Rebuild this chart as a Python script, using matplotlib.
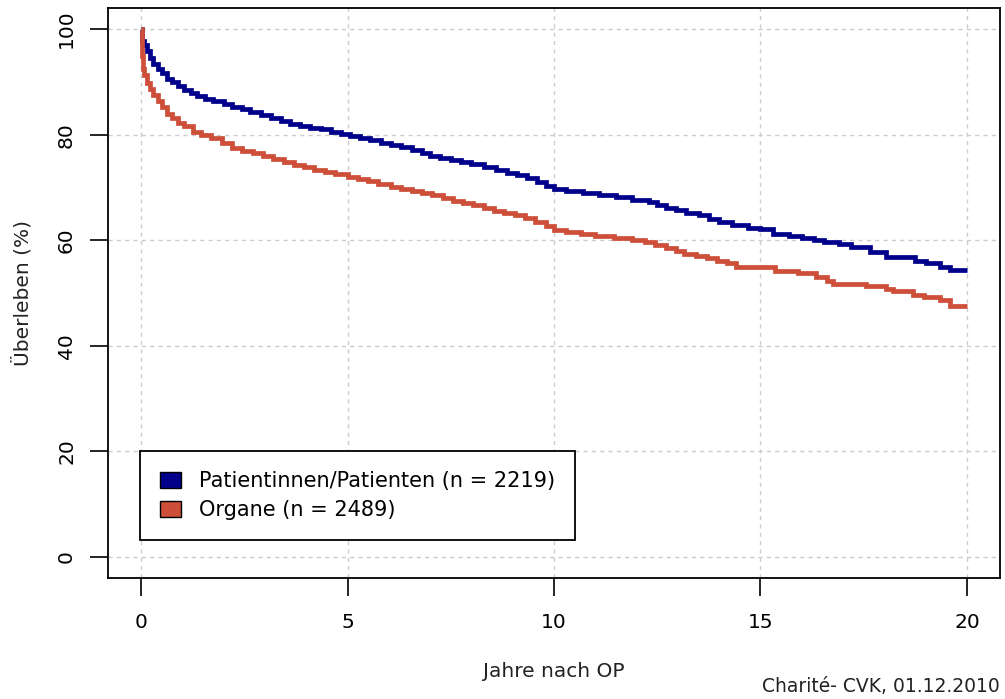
import matplotlib
matplotlib.use("Agg")
import matplotlib.pyplot as plt
from matplotlib.patches import Patch

plt.rcParams['font.family'] = ['DejaVu Sans']

# Kaplan-Meier estimates (years after surgery, survival in %)
t_patients = [0, 0.03, 0.08, 0.15, 0.22, 0.3, 0.4, 0.5, 0.63, 0.75, 0.9, 1.05, 1.2, 1.35,
              1.55, 1.75, 2.0, 2.2, 2.45, 2.65, 2.9, 3.15, 3.4, 3.6, 3.85, 4.1, 4.35,
              4.6, 4.85, 5.05, 5.3, 5.55, 5.8, 6.05, 6.3, 6.55, 6.8, 7.0, 7.25, 7.5,
              7.75, 8.0, 8.3, 8.6, 8.85, 9.1, 9.35, 9.6, 9.8, 10.0, 10.3, 10.7, 11.1,
              11.5, 11.9, 12.3, 12.5, 12.7, 12.95, 13.2, 13.5, 13.75, 14.0, 14.3,
              14.7, 15.0, 15.3, 15.7, 16.0, 16.3, 16.55, 16.9, 17.2, 17.65, 18.05,
              18.75, 19.0, 19.35, 19.6, 20.0]
s_patients = [100, 97.8, 97.0, 95.8, 94.5, 93.4, 92.5, 91.7, 90.6, 89.9, 89.2, 88.5, 87.9,
              87.3, 86.8, 86.3, 85.8, 85.3, 84.8, 84.3, 83.8, 83.2, 82.6, 82.1, 81.6,
              81.3, 81.0, 80.6, 80.2, 79.8, 79.3, 78.9, 78.5, 78.1, 77.6, 77.1, 76.5,
              76.0, 75.6, 75.2, 74.8, 74.4, 73.9, 73.4, 72.8, 72.3, 71.7, 71.0, 70.3,
              69.8, 69.4, 69.0, 68.5, 68.1, 67.6, 67.2, 66.6, 66.2, 65.7, 65.2, 64.7,
              64.1, 63.5, 62.9, 62.4, 62.1, 61.2, 60.8, 60.5, 60.0, 59.6, 59.2, 58.8,
              57.8, 56.8, 56.0, 55.7, 55.0, 54.4, 54.4]

t_organs = [0, 0.02, 0.04, 0.08, 0.15, 0.22, 0.3, 0.4, 0.5, 0.63, 0.75, 0.9, 1.05, 1.25,
            1.45, 1.7, 1.95, 2.2, 2.45, 2.7, 2.95, 3.2, 3.45, 3.7, 3.95, 4.2, 4.45, 4.7,
            5.0, 5.25, 5.5, 5.75, 6.05, 6.3, 6.55, 6.8, 7.05, 7.3, 7.55, 7.8, 8.05,
            8.3, 8.55, 8.8, 9.05, 9.3, 9.55, 9.8, 10.0, 10.3, 10.65, 11.0, 11.45,
            11.9, 12.2, 12.45, 12.7, 12.95, 13.15, 13.45, 13.7, 13.95, 14.2, 14.4,
            15.35, 15.9, 16.35, 16.6, 16.75, 17.55, 18.05, 18.2, 18.7, 18.95, 19.35,
            19.6, 20.0]
s_organs = [100, 95.0, 92.5, 91.3, 89.8, 88.6, 87.6, 86.4, 85.2, 84.0, 83.2, 82.3, 81.6,
            80.6, 80.0, 79.3, 78.5, 77.5, 77.0, 76.6, 76.0, 75.4, 74.8, 74.3, 73.9,
            73.4, 73.0, 72.5, 72.0, 71.6, 71.2, 70.6, 70.1, 69.8, 69.4, 69.0, 68.5,
            68.0, 67.5, 67.1, 66.6, 66.1, 65.6, 65.1, 64.7, 64.2, 63.5, 62.7, 61.9,
            61.5, 61.2, 60.8, 60.4, 60.1, 59.6, 59.1, 58.5, 57.9, 57.4, 57.0, 56.6,
            56.1, 55.6, 55.0, 54.1, 53.7, 53.0, 52.3, 51.7, 51.3, 50.8, 50.3, 49.6,
            49.2, 48.6, 47.6, 47.6]

labels = ["Patientinnen/Patienten (n = 2219)", "Organe (n = 2489)"]
colors = ["#00008B", "#CD4F39"]
x_ticks = [0, 5, 10, 15, 20]
y_ticks = [0, 20, 40, 60, 80, 100]

fig = plt.figure(figsize=(10.05, 6.99), dpi=100)
ax = fig.add_axes([108 / 1005, 1 - 578 / 699, 892 / 1005, 570 / 699])

ax.plot(t_patients, s_patients, drawstyle='steps-post', color=colors[0], lw=3.4,
        solid_capstyle='butt', solid_joinstyle='miter', zorder=3)
ax.plot(t_organs, s_organs, drawstyle='steps-post', color=colors[1], lw=3.4,
        solid_capstyle='butt', solid_joinstyle='miter', zorder=3)

ax.set_xlim(-0.8, 20.8)
ax.set_ylim(-4, 104)
ax.set_xticks(x_ticks)
ax.set_yticks(y_ticks)
ax.set_xticklabels([str(v) for v in x_ticks])
ax.set_yticklabels([str(v) for v in y_ticks], rotation=90, va='center')
ax.tick_params(axis='both', direction='out', length=13, width=1.2, labelsize=14.5,
               colors='black', pad=6)
ax.tick_params(axis='y', pad=10)
ax.tick_params(axis='x', pad=12)
for s in ax.spines.values():
    s.set_linewidth(1.3)
    s.set_color('black')

ax.grid(True, color='#CCCCCC', linestyle=(0, (3, 3)), linewidth=1.0, zorder=0)

ax.set_xlabel("Jahre nach OP", fontsize=14.5, color='#222222', labelpad=22)
ax.set_ylabel("Überleben (%)", fontsize=14.5, color='#222222', labelpad=18)

handles = [Patch(facecolor=c, edgecolor='black', linewidth=1.0) for c in colors]
leg = ax.legend(handles, labels, loc='lower left', bbox_to_anchor=(0.036, 0.067),
                fontsize=15, frameon=True, fancybox=False, edgecolor='black',
                framealpha=1, borderpad=0.95, handlelength=1.0, handleheight=0.8,
                handletextpad=0.9, labelspacing=0.42, borderaxespad=0)
leg.get_frame().set_linewidth(1.3)

fig.text(0.995, 0.004, "Charité- CVK, 01.12.2010", ha='right', va='bottom',
         fontsize=13.5, color='#222222')

fig.savefig("out.png", dpi=100)
